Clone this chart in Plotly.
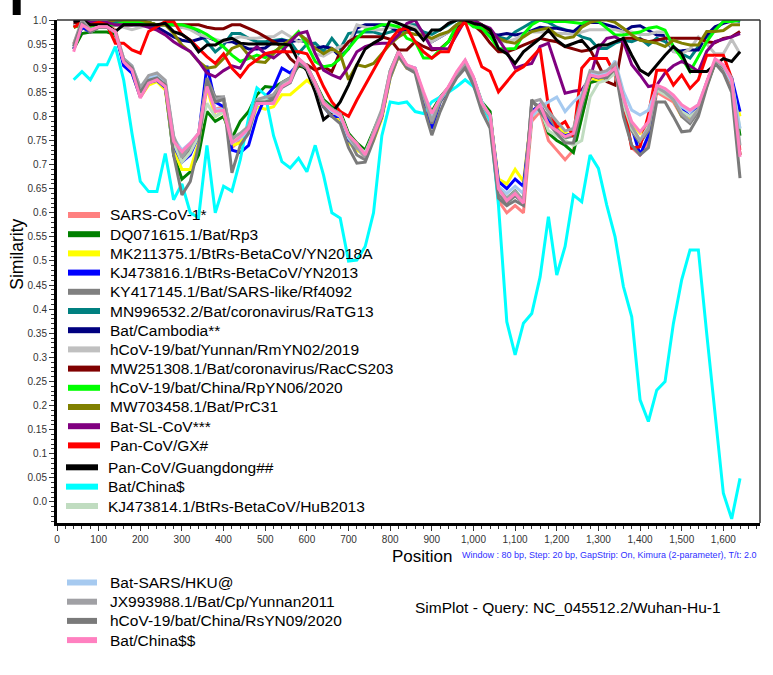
import plotly.graph_objects as go

# Window centres along the alignment (80 bp window, 20 bp step)
positions = list(range(40, 1641, 20))

# --- similarity values per sequence ---
sars_cov_1 = [0.95, 0.995, 0.98, 0.99, 0.99, 0.98, 0.92, 0.9, 0.845, 0.872,
              0.88, 0.865, 0.745, 0.72, 0.74, 0.76, 0.87, 0.815, 0.82, 0.735,
              0.75, 0.77, 0.83, 0.835, 0.845, 0.868, 0.875, 0.915, 0.9, 0.865,
              0.82, 0.805, 0.795, 0.755, 0.735, 0.715, 0.755, 0.8, 0.885, 0.93,
              0.9, 0.895, 0.845, 0.8, 0.835, 0.86, 0.89, 0.915, 0.875, 0.82,
              0.79, 0.625, 0.60, 0.615, 0.60, 0.79, 0.81, 0.75, 0.73, 0.71,
              0.73, 0.8, 0.87, 0.875, 0.88, 0.895, 0.82, 0.735, 0.72, 0.745,
              0.85, 0.84, 0.83, 0.8, 0.79, 0.81, 0.865, 0.915, 0.9, 0.86, 0.73]
rp3 = [0.94, 0.972, 0.975, 0.975, 0.975, 0.97, 0.915, 0.895, 0.845, 0.872,
       0.875, 0.86, 0.72, 0.67, 0.685, 0.72, 0.81, 0.79, 0.8, 0.755,
       0.79, 0.81, 0.845, 0.862, 0.86, 0.87, 0.88, 0.905, 0.9, 0.87,
       0.835, 0.82, 0.81, 0.765, 0.745, 0.73, 0.77, 0.81, 0.885, 0.925,
       0.905, 0.895, 0.84, 0.81, 0.84, 0.86, 0.89, 0.912, 0.88, 0.83,
       0.81, 0.645, 0.63, 0.645, 0.625, 0.8, 0.82, 0.765, 0.75, 0.74,
       0.725, 0.8, 0.87, 0.875, 0.88, 0.895, 0.83, 0.775, 0.745, 0.775,
       0.855, 0.85, 0.835, 0.81, 0.8, 0.815, 0.865, 0.91, 0.905, 0.87, 0.76]
yn2018a = [0.94, 0.985, 0.975, 0.985, 0.985, 0.975, 0.91, 0.89, 0.84, 0.865,
           0.872, 0.855, 0.73, 0.69, 0.69, 0.745, 0.86, 0.8, 0.81, 0.74,
           0.745, 0.77, 0.82, 0.815, 0.82, 0.845, 0.845, 0.86, 0.875, 0.86,
           0.82, 0.8, 0.79, 0.745, 0.73, 0.72, 0.75, 0.795, 0.88, 0.925,
           0.9, 0.895, 0.835, 0.79, 0.83, 0.855, 0.89, 0.915, 0.875, 0.82,
           0.8, 0.67, 0.66, 0.69, 0.665, 0.81, 0.825, 0.79, 0.78, 0.765,
           0.76, 0.825, 0.88, 0.875, 0.88, 0.895, 0.835, 0.785, 0.765, 0.785,
           0.86, 0.85, 0.835, 0.8, 0.795, 0.81, 0.865, 0.915, 0.905, 0.875, 0.8]
yn2013 = [0.94, 0.985, 0.975, 0.985, 0.985, 0.975, 0.905, 0.89, 0.84, 0.87,
          0.875, 0.86, 0.74, 0.705, 0.72, 0.76, 0.905, 0.83, 0.82, 0.73,
          0.725, 0.74, 0.8, 0.84, 0.86, 0.9, 0.89, 0.91, 0.9, 0.865,
          0.82, 0.8, 0.8, 0.75, 0.735, 0.725, 0.755, 0.8, 0.885, 0.93,
          0.905, 0.9, 0.835, 0.775, 0.83, 0.855, 0.89, 0.915, 0.88, 0.825,
          0.8, 0.665, 0.65, 0.67, 0.655, 0.81, 0.825, 0.79, 0.77, 0.76,
          0.765, 0.83, 0.885, 0.88, 0.885, 0.895, 0.835, 0.78, 0.72, 0.76,
          0.86, 0.85, 0.84, 0.815, 0.8, 0.82, 0.87, 0.915, 0.905, 0.88, 0.81]
rf4092 = [0.945, 0.995, 0.975, 0.985, 0.985, 0.975, 0.915, 0.9, 0.85, 0.88,
          0.885, 0.87, 0.755, 0.71, 0.73, 0.76, 0.88, 0.84, 0.84, 0.75,
          0.76, 0.775, 0.83, 0.835, 0.84, 0.865, 0.875, 0.915, 0.905, 0.87,
          0.83, 0.815, 0.8, 0.755, 0.72, 0.71, 0.755, 0.81, 0.895, 0.935,
          0.905, 0.895, 0.845, 0.785, 0.83, 0.86, 0.89, 0.905, 0.875, 0.82,
          0.795, 0.64, 0.62, 0.635, 0.62, 0.83, 0.82, 0.8, 0.775, 0.755,
          0.76, 0.835, 0.89, 0.885, 0.89, 0.905, 0.83, 0.77, 0.745, 0.77,
          0.855, 0.85, 0.835, 0.8, 0.785, 0.81, 0.87, 0.915, 0.9, 0.87, 0.72]
ratg13 = [0.995, 1.0, 0.995, 0.995, 0.995, 0.995, 0.995, 0.995, 0.995, 0.995,
          0.99, 0.99, 0.99, 0.985, 0.985, 0.972, 0.955, 0.934, 0.948, 0.972,
          0.972, 0.962, 0.955, 0.955, 0.958, 0.96, 0.955, 0.931, 0.95, 0.952,
          0.935, 0.962, 0.94, 0.972, 0.975, 0.975, 0.975, 0.97, 0.975, 0.98,
          0.99, 0.99, 0.975, 0.97, 0.98, 0.99, 1.0, 1.0, 0.995, 0.985,
          0.975, 0.965, 0.96, 0.975, 0.985, 0.995, 1.0, 0.995, 0.985, 0.98,
          0.975, 0.965, 0.96, 0.941, 0.941, 0.952, 0.958, 0.955, 0.962, 0.948,
          0.962, 0.955, 0.941, 0.93, 0.921, 0.945, 0.965, 0.98, 0.995, 1.0, 0.997]
cambodia = [0.99, 0.995, 0.99, 0.99, 0.99, 0.99, 0.99, 0.99, 0.99, 0.99,
            0.985, 0.975, 0.965, 0.958, 0.955, 0.96, 0.965, 0.958, 0.955, 0.955,
            0.948, 0.94, 0.94, 0.942, 0.955, 0.958, 0.955, 0.958, 0.955, 0.941,
            0.945, 0.941, 0.924, 0.94, 0.983, 0.99, 0.99, 0.99, 0.985, 0.976,
            0.98, 0.982, 0.968, 0.955, 0.965, 0.975, 0.99, 1.0, 0.99, 0.98,
            0.97, 0.969, 0.972, 0.969, 0.972, 0.978, 0.985, 0.983, 0.983, 0.979,
            0.976, 0.99, 0.995, 0.995, 0.99, 0.985, 0.975, 0.986, 0.988, 0.979,
            0.969, 0.968, 0.935, 0.936, 0.938, 0.938, 0.969, 0.986, 0.993, 0.998, 1.0]
rmyn02 = [0.99, 0.99, 0.99, 0.99, 0.99, 0.99, 0.985, 0.98, 0.985, 0.99,
          0.99, 0.99, 0.99, 0.985, 0.98, 0.97, 0.965, 0.96, 0.955, 0.96,
          0.965, 0.962, 0.962, 0.965, 0.965, 0.976, 0.965, 0.955, 0.962, 0.93,
          0.925, 0.935, 0.945, 0.95, 0.99, 0.985, 0.98, 0.98, 0.985, 0.985,
          0.99, 0.985, 0.965, 0.955, 0.965, 0.975, 0.99, 1.0, 0.99, 0.975,
          0.965, 0.955, 0.955, 0.96, 0.97, 0.975, 0.975, 0.975, 0.972, 0.972,
          0.97, 0.975, 0.98, 0.98, 0.98, 0.98, 0.975, 0.975, 0.97, 0.97,
          0.975, 0.975, 0.934, 0.93, 0.94, 0.965, 0.95, 0.93, 0.93, 0.96, 0.93]
raccs203 = [0.995, 0.995, 0.99, 0.99, 0.99, 0.99, 0.99, 0.99, 0.995, 0.995,
            0.99, 0.99, 0.99, 0.99, 0.99, 0.99, 0.985, 0.982, 0.982, 0.99,
            0.99, 0.982, 0.975, 0.965, 0.955, 0.945, 0.92, 0.905, 0.907, 0.896,
            0.903, 0.893, 0.934, 0.955, 0.965, 0.965, 0.965, 0.965, 0.96, 0.938,
            0.938, 0.955, 0.945, 0.938, 0.94, 0.955, 0.985, 1.0, 0.99, 0.975,
            0.952, 0.934, 0.934, 0.94, 0.948, 0.955, 0.962, 0.958, 0.955, 0.945,
            0.94, 0.935, 0.938, 0.907, 0.872, 0.865, 0.962, 0.962, 0.96, 0.955,
            0.958, 0.962, 0.962, 0.962, 0.962, 0.962, 0.955, 0.953, 0.962, 0.965, 0.976]
rpyn06 = [0.985, 0.99, 0.985, 0.99, 0.99, 0.99, 0.995, 0.995, 0.995, 0.995,
          0.99, 0.99, 0.99, 0.99, 0.985, 0.979, 0.97, 0.958, 0.944, 0.927,
          0.914, 0.92, 0.927, 0.922, 0.934, 0.944, 0.958, 0.976, 0.948, 0.914,
          0.903, 0.906, 0.92, 0.941, 0.962, 0.979, 0.983, 0.99, 0.99, 0.986,
          0.962, 0.955, 0.921, 0.921, 0.938, 0.955, 0.99, 1.0, 0.986, 0.983,
          0.965, 0.941, 0.94, 0.941, 0.97, 0.99, 1.0, 0.997, 0.997, 0.997,
          0.995, 0.993, 1.0, 0.997, 0.983, 0.969, 0.969, 0.972, 0.975, 0.983,
          0.986, 0.979, 0.945, 0.921, 0.893, 0.924, 0.955, 0.979, 0.997, 0.997, 1.0]
prc31 = [0.985, 0.99, 0.99, 0.99, 0.995, 1.0, 1.0, 1.0, 1.0, 0.995,
         0.99, 0.99, 0.972, 0.948, 0.934, 0.914, 0.9, 0.903, 0.92, 0.941,
         0.948, 0.927, 0.914, 0.912, 0.93, 0.948, 0.958, 0.972, 0.958, 0.941,
         0.93, 0.941, 0.93, 0.876, 0.907, 0.903, 0.91, 0.93, 0.95, 0.965,
         0.975, 0.97, 0.969, 0.962, 0.97, 0.976, 0.99, 1.0, 1.0, 0.99,
         0.976, 0.962, 0.955, 0.952, 0.965, 0.976, 0.98, 0.983, 0.969, 0.962,
         0.965, 0.985, 0.995, 1.0, 1.0, 0.995, 0.983, 0.969, 0.958, 0.955,
         0.952, 0.945, 0.958, 0.952, 0.948, 0.948, 0.976, 0.976, 0.978, 0.99, 0.99]
bat_sl_cov = [1.0, 1.0, 0.995, 0.995, 0.995, 0.99, 0.99, 0.99, 0.99, 0.985,
              0.979, 0.969, 0.955, 0.944, 0.935, 0.914, 0.89, 0.882, 0.895, 0.905,
              0.9, 0.93, 0.945, 0.93, 0.921, 0.935, 0.955, 0.972, 0.976, 0.93,
              0.896, 0.886, 0.879, 0.903, 0.934, 0.945, 0.95, 0.952, 0.952, 0.969,
              0.993, 1.0, 0.969, 0.941, 0.941, 0.94, 0.97, 1.0, 1.0, 0.99,
              0.983, 0.96, 0.934, 0.9, 0.906, 0.91, 0.945, 0.952, 0.9, 0.848,
              0.852, 0.855, 0.879, 0.941, 0.962, 0.965, 0.955, 0.907, 0.886, 0.862,
              0.865, 0.89, 0.905, 0.914, 0.905, 0.893, 0.935, 0.955, 0.96, 0.965, 0.972]
pan_cov_gx = [0.985, 0.995, 0.99, 0.995, 0.99, 0.952, 0.952, 0.938, 0.931, 0.976,
              0.986, 0.997, 0.997, 0.97, 0.958, 0.94, 0.924, 0.91, 0.93, 0.9,
              0.882, 0.905, 0.918, 0.93, 0.934, 0.934, 0.934, 0.934, 0.93, 0.9,
              0.862, 0.83, 0.81, 0.8, 0.834, 0.865, 0.893, 0.924, 0.958, 0.979,
              0.983, 0.955, 0.934, 0.921, 0.934, 0.934, 0.976, 0.997, 0.948, 0.903,
              0.893, 0.851, 0.872, 0.893, 0.903, 0.921, 0.941, 0.82, 0.778, 0.789,
              0.758, 0.9, 0.92, 0.92, 0.92, 0.886, 0.83, 0.734, 0.737, 0.803,
              0.896, 0.896, 0.865, 0.886, 0.858, 0.876, 0.927, 0.927, 0.927, 0.879, 0.72]
pan_cov_gd = [0.997, 1.0, 0.99, 0.99, 0.99, 0.976, 0.99, 0.99, 0.99, 0.99,
              0.99, 0.993, 0.976, 0.97, 0.958, 0.934, 0.948, 0.948, 0.958, 0.962,
              0.952, 0.95, 0.95, 0.95, 0.95, 0.95, 0.948, 0.914, 0.895, 0.85,
              0.793, 0.807, 0.83, 0.865, 0.907, 0.94, 0.952, 0.962, 1.0, 0.993,
              0.986, 0.979, 0.958, 0.979, 0.979, 0.993, 1.0, 1.0, 0.993, 0.99,
              0.979, 0.941, 0.93, 0.91, 0.934, 0.948, 0.962, 0.979, 0.958, 0.945,
              0.952, 0.958, 0.938, 0.948, 0.948, 0.955, 0.962, 0.927, 0.896, 0.886,
              0.907, 0.927, 0.945, 0.93, 0.893, 0.893, 0.893, 0.907, 0.92, 0.914, 0.934]
bat_china_1 = [0.876, 0.893, 0.876, 0.907, 0.907, 0.945, 0.876, 0.765, 0.665, 0.644,
               0.644, 0.723, 0.627, 0.66, 0.6, 0.59, 0.74, 0.6, 0.655, 0.645,
               0.71, 0.797, 0.859, 0.845, 0.76, 0.706, 0.693, 0.713, 0.685, 0.74,
               0.678, 0.6, 0.589, 0.5, 0.502, 0.53, 0.6, 0.76, 0.83, 0.827,
               0.83, 0.81, 0.806, 0.83, 0.84, 0.85, 0.862, 0.876, 0.862, 0.83,
               0.79, 0.616, 0.374, 0.305, 0.371, 0.391, 0.467, 0.592, 0.471, 0.53,
               0.637, 0.623, 0.72, 0.692, 0.616, 0.55, 0.447, 0.384, 0.212, 0.167,
               0.232, 0.25, 0.37, 0.461, 0.523, 0.523, 0.35, 0.191, 0.018, -0.035, 0.049]
hub2013 = [0.945, 0.99, 0.98, 0.985, 0.985, 0.975, 0.915, 0.9, 0.845, 0.875,
           0.88, 0.865, 0.745, 0.705, 0.725, 0.76, 0.827, 0.8, 0.81, 0.745,
           0.76, 0.78, 0.83, 0.835, 0.83, 0.865, 0.875, 0.915, 0.9, 0.865,
           0.83, 0.815, 0.805, 0.76, 0.74, 0.725, 0.765, 0.805, 0.885, 0.93,
           0.905, 0.9, 0.845, 0.8, 0.835, 0.86, 0.89, 0.915, 0.88, 0.825,
           0.8, 0.645, 0.63, 0.64, 0.625, 0.8, 0.815, 0.77, 0.76, 0.75,
           0.74, 0.75, 0.84, 0.87, 0.875, 0.89, 0.825, 0.775, 0.75, 0.78,
           0.855, 0.845, 0.835, 0.81, 0.8, 0.815, 0.865, 0.915, 0.905, 0.875, 0.775]
hku = [0.945, 0.99, 0.98, 0.985, 0.985, 0.975, 0.92, 0.905, 0.86, 0.88,
       0.885, 0.87, 0.755, 0.73, 0.745, 0.765, 0.865, 0.815, 0.815, 0.745,
       0.755, 0.77, 0.825, 0.83, 0.83, 0.86, 0.87, 0.915, 0.9, 0.865,
       0.825, 0.81, 0.8, 0.755, 0.735, 0.72, 0.765, 0.805, 0.885, 0.93,
       0.905, 0.9, 0.845, 0.8, 0.835, 0.86, 0.89, 0.915, 0.88, 0.83,
       0.8, 0.655, 0.64, 0.655, 0.64, 0.8, 0.82, 0.83, 0.84, 0.81,
       0.83, 0.845, 0.89, 0.885, 0.89, 0.915, 0.852, 0.813, 0.803, 0.813,
       0.86, 0.855, 0.84, 0.82, 0.81, 0.825, 0.87, 0.915, 0.905, 0.87, 0.775]
yunnan2011 = [0.95, 1.0, 0.98, 0.985, 0.985, 0.975, 0.92, 0.905, 0.86, 0.885,
              0.89, 0.875, 0.76, 0.715, 0.74, 0.765, 0.875, 0.835, 0.84, 0.755,
              0.765, 0.78, 0.835, 0.84, 0.845, 0.87, 0.88, 0.92, 0.905, 0.87,
              0.83, 0.815, 0.805, 0.76, 0.735, 0.715, 0.77, 0.815, 0.895, 0.935,
              0.905, 0.895, 0.84, 0.79, 0.835, 0.86, 0.89, 0.91, 0.875, 0.825,
              0.8, 0.65, 0.63, 0.645, 0.625, 0.83, 0.835, 0.81, 0.79, 0.77,
              0.775, 0.84, 0.895, 0.89, 0.895, 0.91, 0.84, 0.78, 0.75, 0.775,
              0.86, 0.85, 0.835, 0.805, 0.79, 0.815, 0.87, 0.915, 0.905, 0.88, 0.74]
rsyn09 = [0.945, 0.995, 0.975, 0.985, 0.985, 0.975, 0.915, 0.9, 0.85, 0.875,
          0.88, 0.865, 0.72, 0.637, 0.665, 0.74, 0.875, 0.83, 0.835, 0.683,
          0.74, 0.765, 0.83, 0.83, 0.835, 0.86, 0.87, 0.91, 0.9, 0.865,
          0.82, 0.8, 0.785, 0.735, 0.703, 0.705, 0.75, 0.8, 0.88, 0.925,
          0.9, 0.89, 0.82, 0.761, 0.81, 0.85, 0.88, 0.9, 0.865, 0.81,
          0.775, 0.63, 0.615, 0.625, 0.615, 0.835, 0.81, 0.785, 0.765, 0.745,
          0.745, 0.82, 0.885, 0.88, 0.88, 0.9, 0.8, 0.74, 0.72, 0.735,
          0.83, 0.83, 0.8, 0.768, 0.77, 0.8, 0.86, 0.91, 0.89, 0.85, 0.672]
bat_china_2 = [0.934, 0.99, 0.979, 0.986, 0.986, 0.975, 0.913, 0.896, 0.838, 0.869,
               0.876, 0.862, 0.748, 0.727, 0.744, 0.765, 0.862, 0.81, 0.813, 0.745,
               0.758, 0.775, 0.827, 0.827, 0.827, 0.862, 0.872, 0.92, 0.903, 0.869,
               0.827, 0.813, 0.803, 0.761, 0.744, 0.72, 0.761, 0.803, 0.89, 0.934,
               0.907, 0.9, 0.851, 0.806, 0.838, 0.862, 0.893, 0.917, 0.882, 0.827,
               0.803, 0.65, 0.625, 0.64, 0.62, 0.806, 0.824, 0.782, 0.771, 0.758,
               0.765, 0.83, 0.886, 0.882, 0.886, 0.9, 0.838, 0.789, 0.768, 0.789,
               0.865, 0.858, 0.844, 0.824, 0.813, 0.824, 0.872, 0.92, 0.907, 0.876, 0.716]

# Axis tick labels
x_tick_values = [0, 100, 200, 300, 400, 500, 600, 700, 800, 900, 1000,
                 1100, 1200, 1300, 1400, 1500, 1600]
x_tick_labels = ["0", "100", "200", "300", "400", "500", "600", "700", "800",
                 "900", "1,000", "1,100", "1,200", "1,300", "1,400", "1,500", "1,600"]
y_tick_values = [0.0, 0.05, 0.1, 0.15, 0.2, 0.25, 0.3, 0.35, 0.4, 0.45, 0.5,
                 0.55, 0.6, 0.65, 0.7, 0.75, 0.8, 0.85, 0.9, 0.95, 1.0]
y_tick_labels = ["0.0", "0.05", "0.1", "0.15", "0.2", "0.25", "0.3", "0.35", "0.4",
                 "0.45", "0.5", "0.55", "0.6", "0.65", "0.7", "0.75", "0.8", "0.85",
                 "0.9", "0.95", "1.0"]

# name, colour, values, key block (0: inside plot, 1: inside plot lower block, 2: below plot)
series = [
    ("SARS-CoV-1*", "#ff8080", sars_cov_1, 0),
    ("DQ071615.1/Bat/Rp3", "#008000", rp3, 0),
    ("MK211375.1/BtRs-BetaCoV/YN2018A", "#ffff00", yn2018a, 0),
    ("KJ473816.1/BtRs-BetaCoV/YN2013", "#0000ff", yn2013, 0),
    ("KY417145.1/Bat/SARS-like/Rf4092", "#808080", rf4092, 0),
    ("MN996532.2/Bat/coronavirus/RaTG13", "#008080", ratg13, 0),
    ("Bat/Cambodia**", "#000080", cambodia, 0),
    ("hCoV-19/bat/Yunnan/RmYN02/2019", "#c0c0c0", rmyn02, 0),
    ("MW251308.1/Bat/coronavirus/RacCS203", "#800000", raccs203, 0),
    ("hCoV-19/bat/China/RpYN06/2020", "#00ff00", rpyn06, 0),
    ("MW703458.1/Bat/PrC31", "#808000", prc31, 0),
    ("Bat-SL-CoV***", "#800080", bat_sl_cov, 0),
    ("Pan-CoV/GX#", "#ff0000", pan_cov_gx, 0),
    ("Pan-CoV/Guangdong##", "#000000", pan_cov_gd, 1),
    ("Bat/China$", "#00ffff", bat_china_1, 1),
    ("KJ473814.1/BtRs-BetaCoV/HuB2013", "#c0dcc0", hub2013, 1),
    ("Bat-SARS/HKU@", "#a6caf0", hku, 2),
    ("JX993988.1/Bat/Cp/Yunnan2011", "#a0a0a4", yunnan2011, 2),
    ("hCoV-19/bat/China/RsYN09/2020", "#7a7a7a", rsyn09, 2),
    ("Bat/China$$", "#ff80c0", bat_china_2, 2),
]

for _, _, vals, _ in series:
    assert len(vals) == len(positions)

FONT = "Liberation Sans, Arial, Helvetica, sans-serif"

# page geometry (pixels) of the plotting area
W, H = 773, 675
PL, PR, PT, PB = 57, 760, 20, 523


def px_x(px):
    return (px - PL) / (PR - PL)


def px_y(py):
    return (PB - py) / (PB - PT)


fig = go.Figure()

# similarity curves
for name, color, vals, _ in series:
    fig.add_trace(go.Scatter(
        x=positions, y=vals, mode="lines", name=name,
        line=dict(color=color, width=3), showlegend=False, hoverinfo="skip",
    ))

# key: swatch line + label per sequence
key_blocks = {
    0: dict(top=215.0, step=19.2, x0=68, x1=100, tx=109),
    1: dict(top=467.3, step=19.35, x0=66, x1=98, tx=107),
    2: dict(top=582.5, step=19.2, x0=67, x1=97, tx=108.5),
}
shapes = []
annotations = []
counters = {0: 0, 1: 0, 2: 0}
for name, color, _, blk in series:
    b = key_blocks[blk]
    yc = b["top"] + b["step"] * counters[blk]
    counters[blk] += 1
    shapes.append(dict(type="line", xref="paper", yref="paper",
                       x0=px_x(b["x0"]), x1=px_x(b["x1"]), y0=px_y(yc), y1=px_y(yc),
                       line=dict(color=color, width=6)))
    annotations.append(dict(text=name, xref="paper", yref="paper",
                            x=px_x(b["tx"]), y=px_y(yc), showarrow=False,
                            xanchor="left", yanchor="middle", borderpad=0,
                            font=dict(family=FONT, size=15.5, color="black")))

# thin frame on top and right
shapes += [
    dict(type="line", xref="paper", yref="paper", x0=0, x1=1, y0=1, y1=1,
         line=dict(color="#333333", width=1.5)),
    dict(type="line", xref="paper", yref="paper", x0=1, x1=1, y0=0, y1=1,
         line=dict(color="#333333", width=1.5)),
    # panel mark in the top-left corner
    dict(type="rect", xref="paper", yref="paper", x0=px_x(12.7), x1=px_x(20.7),
         y0=px_y(15), y1=px_y(0), fillcolor="black", line=dict(width=0)),
]

annotations += [
    dict(text="Similarity", xref="paper", yref="paper", x=px_x(16.7), y=px_y(254),
         textangle=-90, showarrow=False, xanchor="center", yanchor="middle",
         borderpad=0, font=dict(family=FONT, size=17.5, color="black")),
    dict(text="Position", xref="paper", yref="paper", x=px_x(421.5), y=px_y(556),
         showarrow=False, xanchor="center", yanchor="middle", borderpad=0,
         font=dict(family=FONT, size=17, color="black")),
    dict(text="Window : 80 bp, Step: 20 bp, GapStrip: On, Kimura (2-parameter), T/t: 2.0",
         xref="paper", yref="paper", x=px_x(461), y=px_y(555), showarrow=False,
         xanchor="left", yanchor="middle", borderpad=0,
         font=dict(family=FONT, size=9, color="#2f2fff")),
    dict(text="SimPlot - Query: NC_045512.2/Wuhan-Hu-1", xref="paper",
         yref="paper", x=px_x(568), y=px_y(607), showarrow=False,
         xanchor="center", yanchor="middle", borderpad=0,
         font=dict(family=FONT, size=15.5, color="black")),
]

axis_common = dict(
    showgrid=False, zeroline=False, showline=True, linewidth=3,
    linecolor="black", ticks="outside", ticklen=5, tickwidth=1,
    tickcolor="#333333", tickfont=dict(family=FONT, size=10, color="#333333"),
)

fig.update_layout(
    width=W, height=H,
    margin=dict(l=PL, r=W - PR, t=PT, b=H - PB),
    paper_bgcolor="white", plot_bgcolor="white",
    font=dict(family=FONT, color="black"),
    showlegend=False,
    xaxis=dict(
        range=[0, 1688], tickmode="array", tickvals=x_tick_values,
        ticktext=x_tick_labels,
        minor=dict(tickmode="linear", tick0=0, dtick=20, ticklen=3,
                   ticks="outside", tickcolor="#333333", showgrid=False),
        **axis_common,
    ),
    yaxis=dict(
        range=[-0.0436, 1.0], tickmode="array", tickvals=y_tick_values,
        ticktext=y_tick_labels,
        minor=dict(tickmode="linear", tick0=0, dtick=0.01, ticklen=3,
                   ticks="outside", tickcolor="#333333", showgrid=False),
        **axis_common,
    ),
    shapes=shapes,
    annotations=annotations,
)

fig.write_html("out.html")
